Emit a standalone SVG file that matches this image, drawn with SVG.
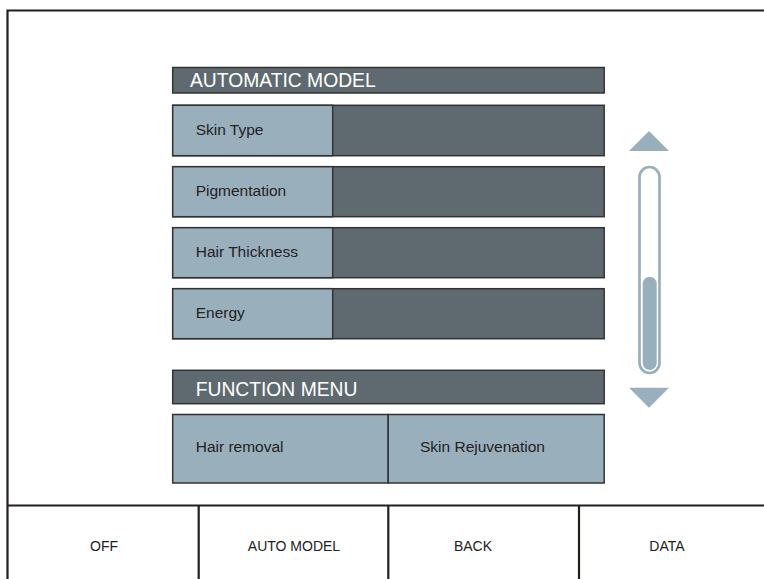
<svg xmlns="http://www.w3.org/2000/svg" width="764" height="579" viewBox="0 0 764 579">
<style>
.dark{fill:#5F6A70;stroke:#333;stroke-width:1.5}
.light{fill:#9AAFBC;stroke:#333;stroke-width:1.5}
.hdr{font-family:"Liberation Sans",Arial,sans-serif;font-size:19.3px;fill:#ffffff}
.lbl{font-family:"Liberation Sans",Arial,sans-serif;font-size:15.5px;fill:#222}
.btn{font-family:"Liberation Sans",Arial,sans-serif;font-size:14px;fill:#222;text-anchor:middle}
.frame{fill:none;stroke:#231F1C;stroke-width:2.2}
.sb{fill:#9AAFBC}
</style>
<rect width="764" height="579" fill="#ffffff"/>
<g id="frame">
<path class="frame" d="M764 10.5H7.5V579"/>
<path class="frame" d="M7.5 505.5H764M198.7 505.5V579M388.3 505.5V579M579 505.5V579"/>
</g>
<g id="automatic-model">
<rect class="dark" x="172.7" y="67.5" width="431.5" height="25.5"/>
<text class="hdr" x="190" y="87.3">AUTOMATIC MODEL</text>
</g>
<g id="skin-type">
<rect class="dark" x="172.7" y="105.3" width="431.5" height="50.4"/>
<rect class="light" x="172.7" y="105.3" width="160" height="50.4"/>
<text class="lbl" x="195.7" y="134.5">Skin Type</text>
</g>
<g id="pigmentation">
<rect class="dark" x="172.7" y="166.7" width="431.5" height="50"/>
<rect class="light" x="172.7" y="166.7" width="160" height="50"/>
<text class="lbl" x="195.7" y="196">Pigmentation</text>
</g>
<g id="hair-thickness">
<rect class="dark" x="172.7" y="227.7" width="431.5" height="50"/>
<rect class="light" x="172.7" y="227.7" width="160" height="50"/>
<text class="lbl" x="195.7" y="256.7">Hair Thickness</text>
</g>
<g id="energy">
<rect class="dark" x="172.7" y="288.7" width="431.5" height="50"/>
<rect class="light" x="172.7" y="288.7" width="160" height="50"/>
<text class="lbl" x="195.7" y="317.7">Energy</text>
</g>
<g id="function-menu">
<rect class="dark" x="172.7" y="370.3" width="431.5" height="33.4"/>
<text class="hdr" x="195.7" y="396">FUNCTION MENU</text>
</g>
<g id="hair-removal">
<rect class="light" x="172.7" y="414.5" width="215.5" height="68.5"/>
<text class="lbl" x="195.7" y="451.7">Hair removal</text>
</g>
<g id="skin-rejuvenation">
<rect class="light" x="388.2" y="414.5" width="216" height="68.5"/>
<text class="lbl" x="420" y="451.7">Skin Rejuvenation</text>
</g>
<g id="scrollbar">
<polygon class="sb" points="649,131 669,151 629,151"/>
<rect x="639.5" y="167" width="20" height="206" rx="10" fill="none" stroke="#9AAFBC" stroke-width="2.7"/>
<rect class="sb" x="642.7" y="276.7" width="14" height="93.3" rx="7"/>
<polygon class="sb" points="629,387.7 669,387.7 649,407.7"/>
</g>
<g id="off"><text class="btn" x="104" y="551">OFF</text></g>
<g id="auto-model"><text class="btn" x="294" y="551">AUTO MODEL</text></g>
<g id="back"><text class="btn" x="473" y="551">BACK</text></g>
<g id="data"><text class="btn" x="667" y="551">DATA</text></g>
<g id="connectors"/>
</svg>
